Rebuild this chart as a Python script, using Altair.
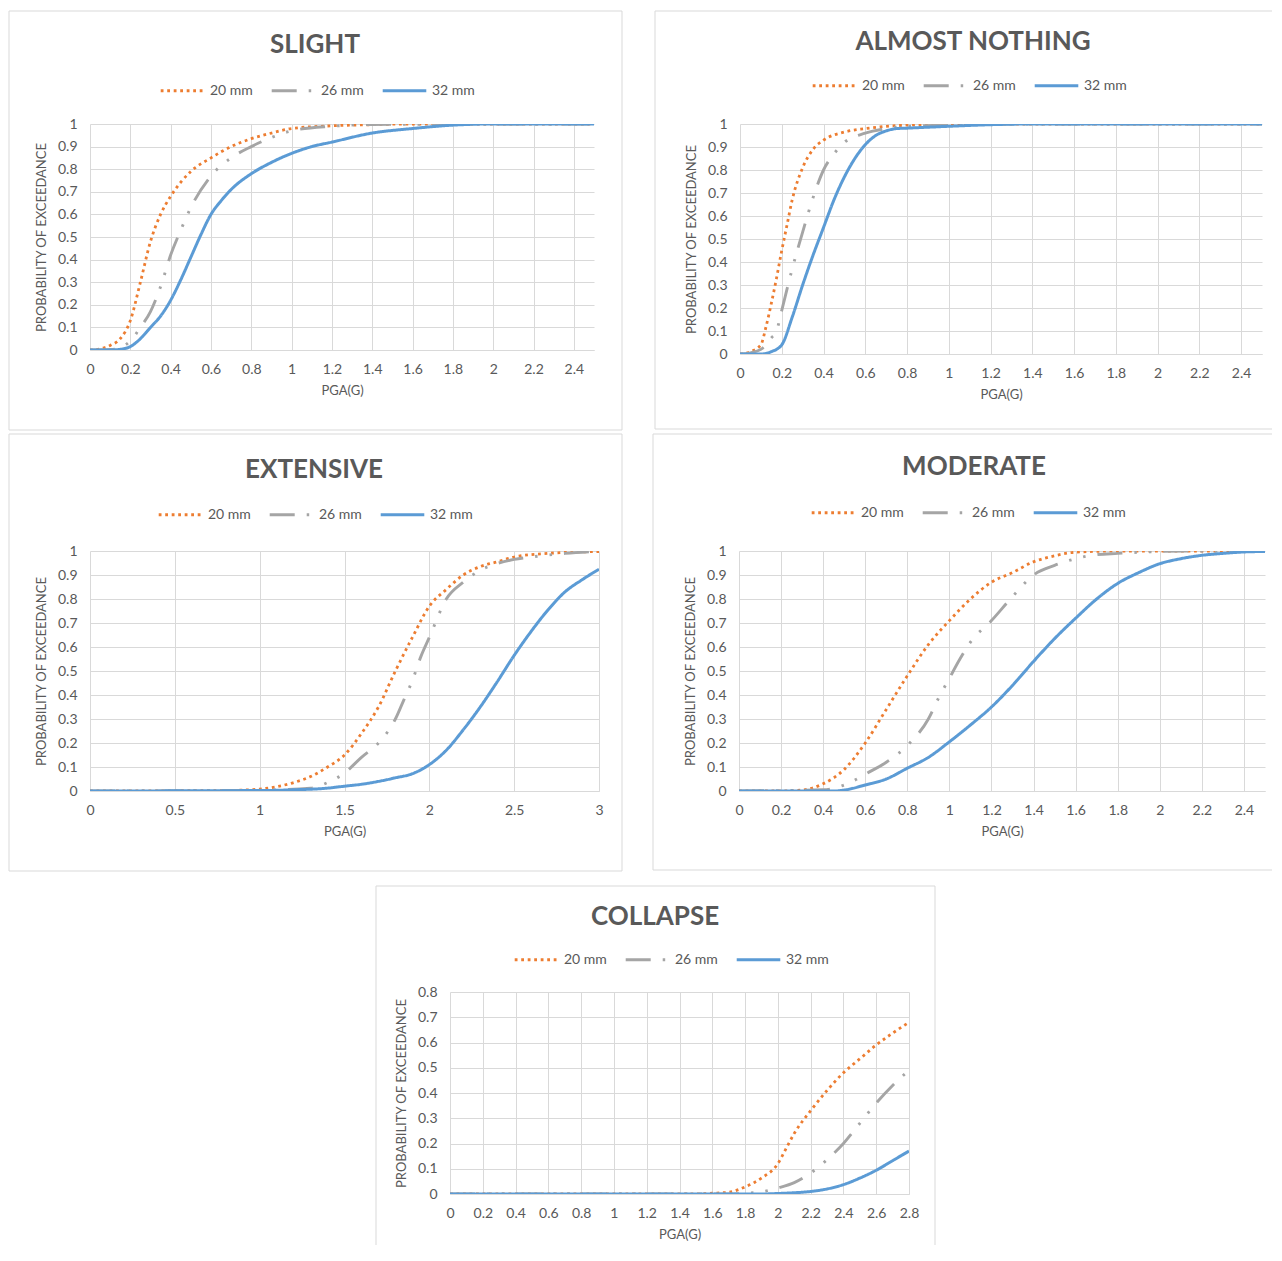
import altair as alt
import pandas as pd

# ---------------- data ----------------
SERIES = ["20 mm", "26 mm", "32 mm"]
COLORS = ["#ED7D31", "#A5A5A5", "#5B9BD5"]
DASHES = [[2.8, 3.7], [25, 12, 2.5, 12, 2.5, 12], [1, 0]]
WIDTHS = [2.8, 3.0, 2.5]

TITLES = ["SLIGHT", "ALMOST NOTHING", "EXTENSIVE", "MODERATE", "COLLAPSE"]

Y_TICKS_1 = [0, 0.1, 0.2, 0.3, 0.4, 0.5, 0.6, 0.7, 0.8, 0.9, 1]
Y_TICKS_08 = [0, 0.1, 0.2, 0.3, 0.4, 0.5, 0.6, 0.7, 0.8]
X_TICKS_24 = [0, 0.2, 0.4, 0.6, 0.8, 1, 1.2, 1.4, 1.6, 1.8, 2, 2.2, 2.4]
X_TICKS_3 = [0, 0.5, 1, 1.5, 2, 2.5, 3]
X_TICKS_28 = [0, 0.2, 0.4, 0.6, 0.8, 1, 1.2, 1.4, 1.6, 1.8, 2, 2.2, 2.4, 2.6, 2.8]

# SLIGHT
s_x20 = [0, 0.05, 0.1, 0.15, 0.2, 0.25, 0.3, 0.35, 0.4, 0.5, 0.6, 0.7, 0.8, 0.9, 1.0, 1.2, 1.4, 1.6, 2.0, 2.5]
s_y20 = [0, 0.005, 0.02, 0.05, 0.13, 0.3, 0.48, 0.6, 0.68, 0.79, 0.85, 0.9, 0.935, 0.96, 0.98, 0.992, 0.997, 1, 1, 1]
s_x26 = [0, 0.1, 0.15, 0.2, 0.25, 0.3, 0.35, 0.4, 0.45, 0.5, 0.6, 0.7, 0.8, 0.9, 1.0, 1.2, 1.4, 2.0, 2.5]
s_y26 = [0, 0.002, 0.01, 0.04, 0.1, 0.17, 0.28, 0.42, 0.53, 0.63, 0.77, 0.85, 0.9, 0.94, 0.97, 0.99, 0.998, 1, 1]
s_x32 = [0, 0.1, 0.15, 0.2, 0.25, 0.3, 0.35, 0.4, 0.45, 0.5, 0.55, 0.6, 0.65, 0.7, 0.8, 0.9, 1.0, 1.1, 1.2, 1.4, 1.6, 1.8, 2.0, 2.5]
s_y32 = [0, 0, 0.003, 0.015, 0.05, 0.1, 0.15, 0.22, 0.31, 0.41, 0.51, 0.6, 0.66, 0.71, 0.78, 0.83, 0.87, 0.9, 0.92, 0.96, 0.98, 0.995, 1, 1]

# ALMOST NOTHING
a_x20 = [0, 0.05, 0.1, 0.125, 0.15, 0.175, 0.2, 0.225, 0.25, 0.3, 0.35, 0.4, 0.5, 0.6, 0.7, 0.8, 1.0, 2.5]
a_y20 = [0, 0.01, 0.04, 0.12, 0.22, 0.33, 0.45, 0.56, 0.67, 0.81, 0.89, 0.93, 0.965, 0.98, 0.99, 0.995, 1, 1]
a_x26 = [0, 0.05, 0.1, 0.15, 0.175, 0.2, 0.25, 0.3, 0.35, 0.4, 0.45, 0.5, 0.6, 0.7, 0.8, 1.0, 1.2, 2.5]
a_y26 = [0, 0.005, 0.02, 0.07, 0.1, 0.19, 0.37, 0.53, 0.68, 0.8, 0.87, 0.92, 0.96, 0.98, 0.99, 0.995, 1, 1]
a_x32 = [0, 0.1, 0.15, 0.2, 0.25, 0.3, 0.35, 0.4, 0.45, 0.5, 0.55, 0.6, 0.65, 0.7, 0.75, 0.8, 1.0, 1.2, 1.4, 2.5]
a_y32 = [0, 0, 0.01, 0.04, 0.16, 0.3, 0.43, 0.55, 0.67, 0.77, 0.85, 0.91, 0.95, 0.97, 0.98, 0.982, 0.99, 0.997, 1, 1]

# EXTENSIVE
e_x20 = [0, 0.8, 1.0, 1.1, 1.2, 1.3, 1.4, 1.5, 1.6, 1.7, 1.8, 1.9, 2.0, 2.1, 2.2, 2.3, 2.4, 2.5, 2.7, 3.0]
e_y20 = [0, 0.002, 0.008, 0.018, 0.035, 0.06, 0.1, 0.15, 0.24, 0.35, 0.5, 0.64, 0.77, 0.84, 0.9, 0.935, 0.955, 0.975, 0.99, 0.998]
e_x26 = [0, 1.0, 1.3, 1.4, 1.5, 1.6, 1.7, 1.8, 1.85, 1.9, 1.95, 2.0, 2.1, 2.2, 2.3, 2.4, 2.5, 2.6, 2.8, 3.0]
e_y26 = [0, 0.003, 0.012, 0.035, 0.075, 0.14, 0.2, 0.3, 0.38, 0.46, 0.56, 0.64, 0.8, 0.87, 0.92, 0.948, 0.965, 0.975, 0.99, 0.999]
e_x32 = [0, 1.0, 1.2, 1.4, 1.5, 1.6, 1.7, 1.8, 1.9, 2.0, 2.1, 2.2, 2.3, 2.4, 2.5, 2.6, 2.7, 2.8, 2.9, 3.0]
e_y32 = [0, 0.002, 0.005, 0.012, 0.02, 0.028, 0.04, 0.055, 0.072, 0.11, 0.17, 0.255, 0.35, 0.455, 0.565, 0.665, 0.755, 0.83, 0.88, 0.924]

# MODERATE
m_x20 = [0, 0.2, 0.3, 0.4, 0.5, 0.6, 0.7, 0.8, 0.9, 1.0, 1.1, 1.2, 1.3, 1.4, 1.5, 1.6, 1.8, 2.5]
m_y20 = [0, 0, 0.004, 0.03, 0.09, 0.2, 0.34, 0.48, 0.61, 0.71, 0.8, 0.87, 0.91, 0.955, 0.98, 0.995, 1, 1]
m_x26 = [0, 0.4, 0.5, 0.55, 0.6, 0.7, 0.8, 0.9, 0.95, 1.0, 1.05, 1.1, 1.2, 1.3, 1.4, 1.5, 1.6, 1.7, 1.8, 2.0, 2.2, 2.5]
m_y26 = [0, 0.005, 0.025, 0.045, 0.07, 0.12, 0.19, 0.3, 0.39, 0.47, 0.55, 0.62, 0.71, 0.81, 0.9, 0.94, 0.968, 0.985, 0.99, 0.998, 1, 1]
m_x32 = [0, 0.45, 0.5, 0.6, 0.7, 0.8, 0.9, 1.0, 1.1, 1.2, 1.3, 1.4, 1.5, 1.6, 1.7, 1.8, 1.9, 2.0, 2.1, 2.2, 2.3, 2.4, 2.5]
m_y32 = [0, 0, 0.004, 0.025, 0.05, 0.095, 0.14, 0.205, 0.275, 0.35, 0.44, 0.54, 0.635, 0.72, 0.8, 0.865, 0.91, 0.947, 0.968, 0.982, 0.99, 0.996, 0.998]

# COLLAPSE
c_x20 = [0, 1.5, 1.6, 1.7, 1.8, 1.9, 2.0, 2.05, 2.1, 2.2, 2.3, 2.4, 2.5, 2.6, 2.7, 2.8]
c_y20 = [0, 0, 0.003, 0.007, 0.028, 0.063, 0.12, 0.18, 0.24, 0.33, 0.41, 0.48, 0.535, 0.59, 0.637, 0.68]
c_x26 = [0, 1.7, 1.8, 1.9, 2.0, 2.1, 2.2, 2.3, 2.4, 2.5, 2.6, 2.7, 2.8]
c_y26 = [0, 0, 0.003, 0.008, 0.024, 0.045, 0.083, 0.136, 0.2, 0.28, 0.36, 0.43, 0.49]
c_x32 = [0, 1.9, 2.0, 2.1, 2.2, 2.3, 2.4, 2.5, 2.6, 2.7, 2.8]
c_y32 = [0, 0, 0.002, 0.005, 0.01, 0.02, 0.037, 0.063, 0.094, 0.132, 0.17]

# ---------------- styling ----------------
GRID = "#D9D9D9"
TXT = "#595959"
FONT = "Lato"
NOVIEW = alt.ViewBackground(stroke="transparent", strokeWidth=0, fill="transparent")


def one_row():
    return alt.Chart(pd.DataFrame({"k": [0]}))


def frame_rule(opacity=1.0, **enc):
    return one_row().mark_rule(color=GRID, strokeWidth=1, opacity=opacity).encode(**enc)


def panel(name, curves, xmax, xticks, ymax, yticks, W, H, box, legend_xy, title_xy, extra_top=None):
    rows = []
    for s, (xs, ys) in zip(SERIES, curves):
        for x, y in zip(xs, ys):
            rows.append({"series": s, "pga": x, "p": y})
    df = pd.DataFrame(rows)

    leg = alt.Legend(
        orient="none", legendX=legend_xy[0], legendY=legend_xy[1],
        direction="horizontal", title=None, symbolType="stroke", symbolSize=1900,
        symbolStrokeWidth=2.5, labelFontSize=14, labelColor=TXT, labelFont=FONT,
        columnPadding=12, labelOffset=4, padding=0,
    )
    xaxis = alt.Axis(
        values=xticks, format="~g", title="PGA(G)", grid=True, gridColor=GRID,
        domainColor=GRID, domainWidth=1, ticks=False, labelFontSize=14, labelColor=TXT,
        labelFont=FONT, labelPadding=12, labelFlush=False, labelOverlap=False,
        titleFontSize=13, titleFontWeight="normal", titleColor=TXT, titleFont=FONT,
        titlePadding=8,
    )
    yaxis = alt.Axis(
        values=yticks, format="~g", title="PROBABILITY OF EXCEEDANCE", grid=True,
        gridColor=GRID, domain=False, ticks=False, labelFontSize=14, labelColor=TXT,
        labelFont=FONT, labelPadding=13, labelOverlap=False, titleFontSize=13,
        titleFontWeight="normal", titleColor=TXT, titleFont=FONT, titlePadding=9,
    )
    lines = alt.Chart(df).mark_line(interpolate="monotone", clip=True).encode(
        x=alt.X("pga:Q", scale=alt.Scale(domain=[0, xmax], nice=False, zero=True), axis=xaxis),
        y=alt.Y("p:Q", scale=alt.Scale(domain=[0, ymax], nice=False), axis=yaxis),
        color=alt.Color("series:N", scale=alt.Scale(domain=SERIES, range=COLORS), legend=leg),
        strokeDash=alt.StrokeDash("series:N", scale=alt.Scale(domain=SERIES, range=DASHES), legend=leg),
        strokeWidth=alt.StrokeWidth("series:N", scale=alt.Scale(domain=SERIES, range=WIDTHS), legend=None),
    )

    title = one_row().mark_text(
        fontSize=26, fontWeight="bold", color=TXT, font=FONT, align="center", baseline="alphabetic"
    ).encode(x=alt.value(title_xy[0]), y=alt.value(title_xy[1]), text=alt.value(name))

    l, r, t, b, sides = box
    layers = [lines, title]
    if "top" in sides:
        layers.append(frame_rule(x=alt.value(l), x2=alt.value(r), y=alt.value(t)))
    if "bottom" in sides:
        layers.append(frame_rule(x=alt.value(l), x2=alt.value(r), y=alt.value(b)))
    if "left" in sides:
        layers.append(frame_rule(x=alt.value(l), y=alt.value(t), y2=alt.value(b)))
    if "right" in sides:
        layers.append(frame_rule(x=alt.value(r), y=alt.value(t), y2=alt.value(b)))
    if extra_top is not None:
        layers.append(frame_rule(opacity=0, x=alt.value(0), x2=alt.value(10), y=alt.value(extra_top)))

    return alt.layer(*layers).properties(width=W, height=H, view=NOVIEW)


p1 = panel(TITLES[0], [(s_x20, s_y20), (s_x26, s_y26), (s_x32, s_y32)], 2.5, X_TICKS_24, 1, Y_TICKS_1,
           504, 226, (-81, 532, -113, 306, ("top", "bottom", "left", "right")), (69, -57), (225, -71))
p2 = panel(TITLES[1], [(a_x20, a_y20), (a_x26, a_y26), (a_x32, a_y32)], 2.5, X_TICKS_24, 1, Y_TICKS_1,
           522, 230, (-85, 532, -113, 305, ("top", "bottom", "left")), (71, -62), (233, -74))
p3 = panel(TITLES[2], [(e_x20, e_y20), (e_x26, e_y26), (e_x32, e_y32)], 3, X_TICKS_3, 1, Y_TICKS_1,
           509, 240, (-81, 532, -117, 320, ("top", "bottom", "left", "right")), (67, -60), (224, -73))
p4 = panel(TITLES[3], [(m_x20, m_y20), (m_x26, m_y26), (m_x32, m_y32)], 2.5, X_TICKS_24, 1, Y_TICKS_1,
           526, 240, (-86, 533, -117, 319, ("top", "bottom", "left")), (71, -62), (235, -76))
p5 = panel(TITLES[4], [(c_x20, c_y20), (c_x26, c_y26), (c_x32, c_y32)], 2.8, X_TICKS_28, 0.8, Y_TICKS_08,
           459, 202, (-74, 485, -106, 253, ("top", "left", "right")), (63, -56), (205, -67), extra_top=-118)

spacer = (
    one_row().mark_rule(opacity=0).encode(x=alt.value(0), x2=alt.value(275), y=alt.value(0))
    .properties(width=275, height=1, view=NOVIEW)
)

ind = dict(color="independent", strokeDash="independent", strokeWidth="independent")
row1 = alt.hconcat(p1, p2, spacing=31).resolve_scale(**ind)
row2 = alt.hconcat(p3, p4, spacing=29).resolve_scale(**ind)
row3 = alt.hconcat(spacer, p5, spacing=10).resolve_scale(**ind)

chart = (
    alt.vconcat(row1, row2, row3, spacing=2)
    .resolve_scale(**ind)
    .properties(padding={"left": 0, "top": 2, "right": 0, "bottom": 0})
    .configure_view(stroke="transparent", strokeWidth=0)
    .configure(font=FONT)
)

chart.save("out.html", embed_options={"renderer": "svg", "actions": False})
